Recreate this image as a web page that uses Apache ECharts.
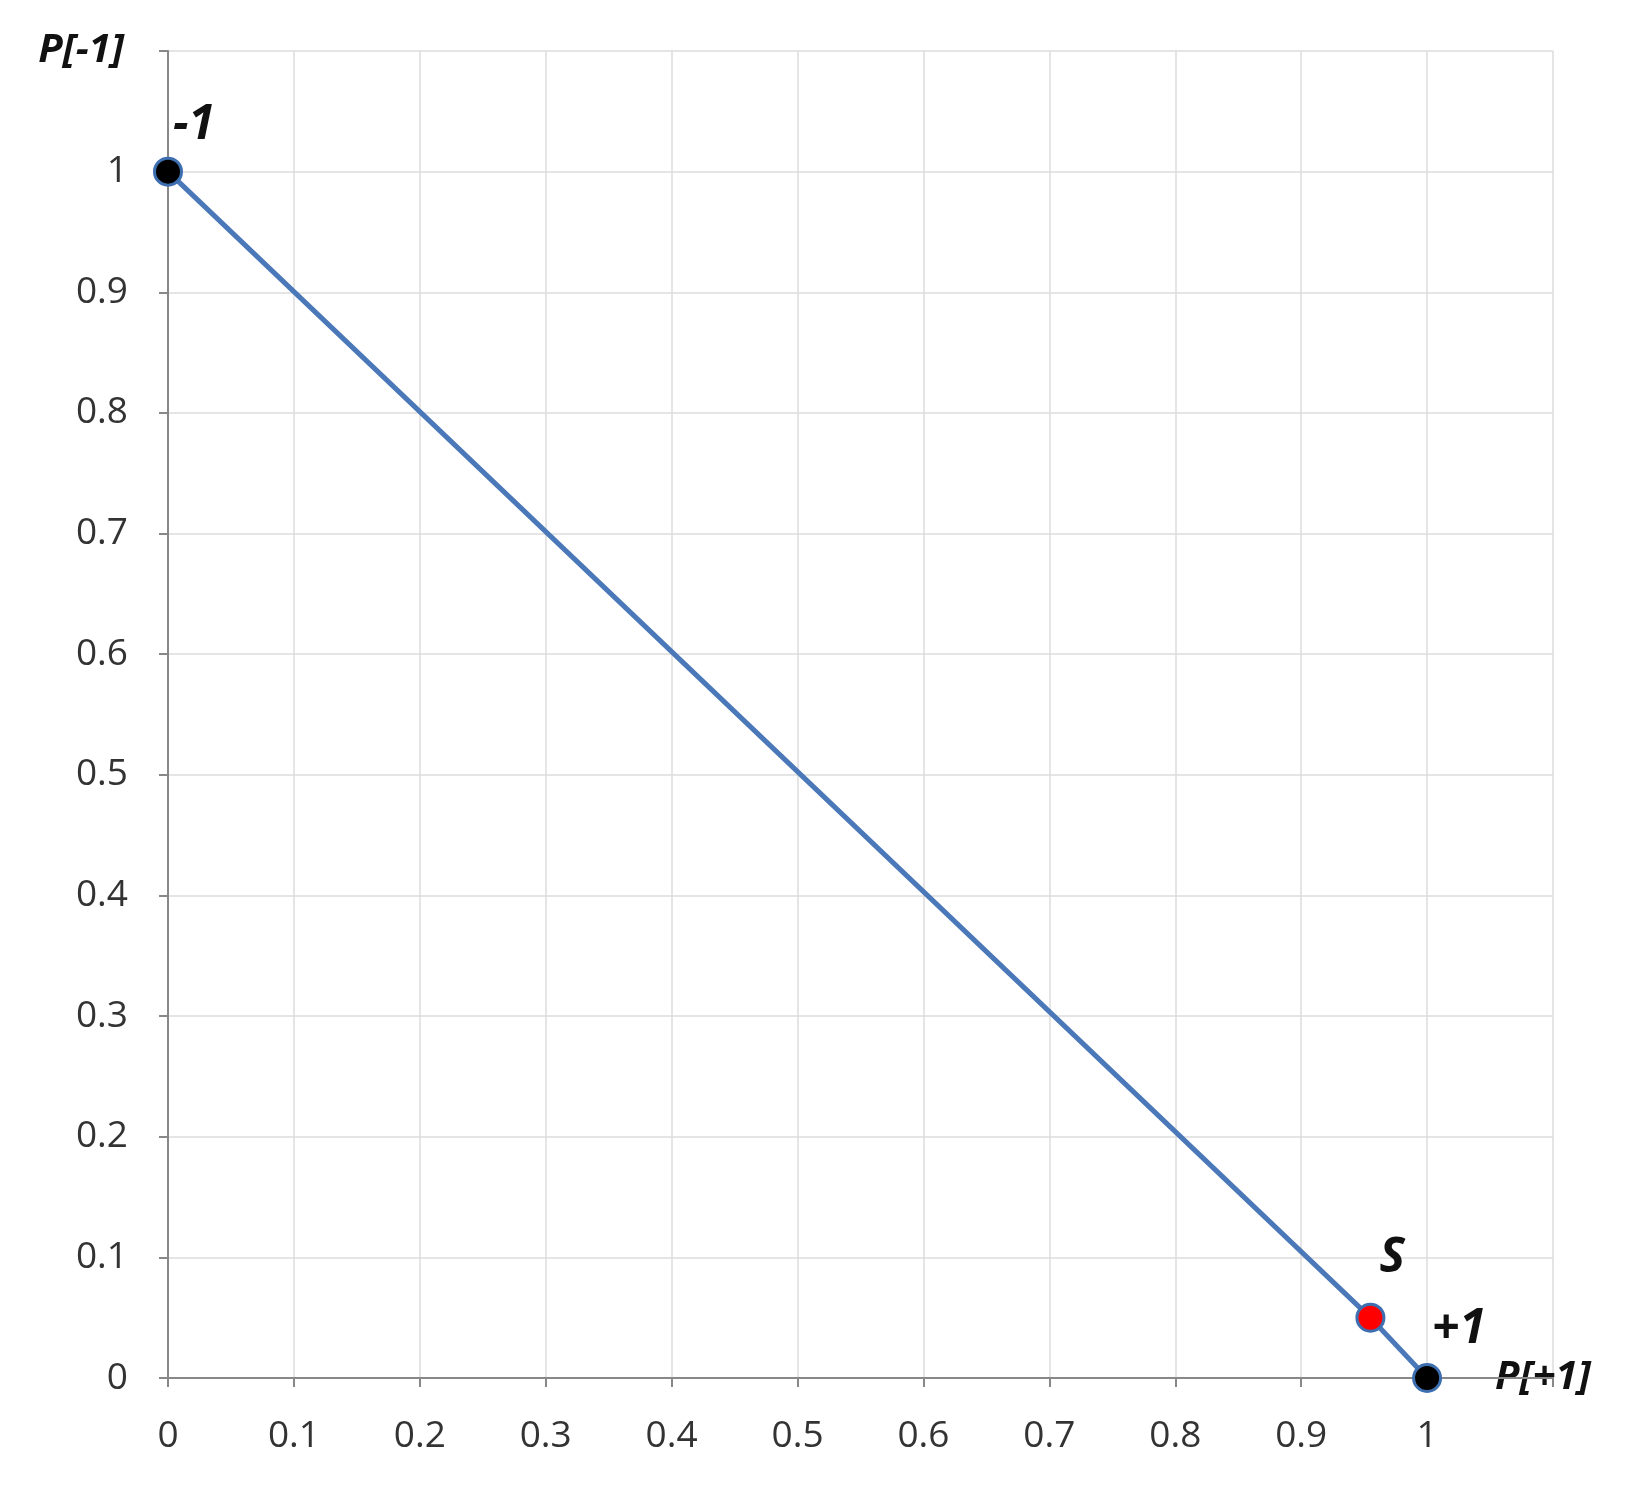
<!DOCTYPE html>
<html><head><meta charset="utf-8">
<script src="https://cdn.jsdelivr.net/npm/echarts@6/dist/echarts.min.js"></script>
<style>html,body{margin:0;background:#fff}#c{width:1630px;height:1498px}</style>
</head><body><div id="c"></div>
<script>
const lineX = [0, 0.955, 1];
const lineY = [1, 0.05, 0];
const pointNames = ['-1', 'S', '+1'];
const pointColors = ['#000', '#ff0000', '#000'];
const xName = 'P[+1]';
const yName = 'P[-1]';

const chart = echarts.init(document.getElementById('c'));
const fmt = v => v > 1.05 ? '' : String(+v.toFixed(1));
const axisCommon = {
  min: 0, max: 1.1, interval: 0.1,
  axisLine: {show: true, onZero: false, lineStyle: {color: '#888', width: 2}},
  axisTick: {show: true, length: 9, lineStyle: {color: '#888', width: 2}},
  splitLine: {show: true, lineStyle: {color: '#ddd', width: 1.5}},
  axisLabel: {formatter: fmt, fontSize: 37, color: '#333', fontFamily: 'Open Sans'},
  nameTextStyle: {fontSize: 40, fontWeight: 'bold', fontStyle: 'italic', color: '#111', fontFamily: 'Open Sans'}
};
chart.setOption({
  animation: false,
  grid: {left: 168, right: 77, top: 51, bottom: 120},
  xAxis: Object.assign({}, axisCommon, {type: 'value', name: xName, nameLocation: 'end', nameGap: -58,
    axisLabel: Object.assign({}, axisCommon.axisLabel, {margin: 40}),
    nameTextStyle: Object.assign({}, axisCommon.nameTextStyle, {align: 'left', verticalAlign: 'middle', padding: [150, 0, 0, 0]})}),
  yAxis: Object.assign({}, axisCommon, {type: 'value', name: yName, nameLocation: 'end', nameGap: 0,
    axisLabel: Object.assign({}, axisCommon.axisLabel, {margin: 40}),
    nameTextStyle: Object.assign({}, axisCommon.nameTextStyle, {align: 'right', verticalAlign: 'middle', padding: [0, 44, 0, 0]})}),
  series: [{
    type: 'line',
    data: lineX.map((x, i) => ({
      value: [x, lineY[i]],
      itemStyle: {color: pointColors[i], borderColor: '#3d6fb0', borderWidth: 3},
      label: {show: true, formatter: pointNames[i],
        position: i === 0 ? [20, -55] : i === 1 ? [24, -68] : [20, -58]}
    })),
    symbol: 'circle', symbolSize: 27,
    lineStyle: {color: '#4a78b8', width: 5},
    label: {fontSize: 48, fontWeight: 'bold', fontStyle: 'italic', color: '#111', fontFamily: 'Open Sans'}
  }]
});
</script></body></html>
